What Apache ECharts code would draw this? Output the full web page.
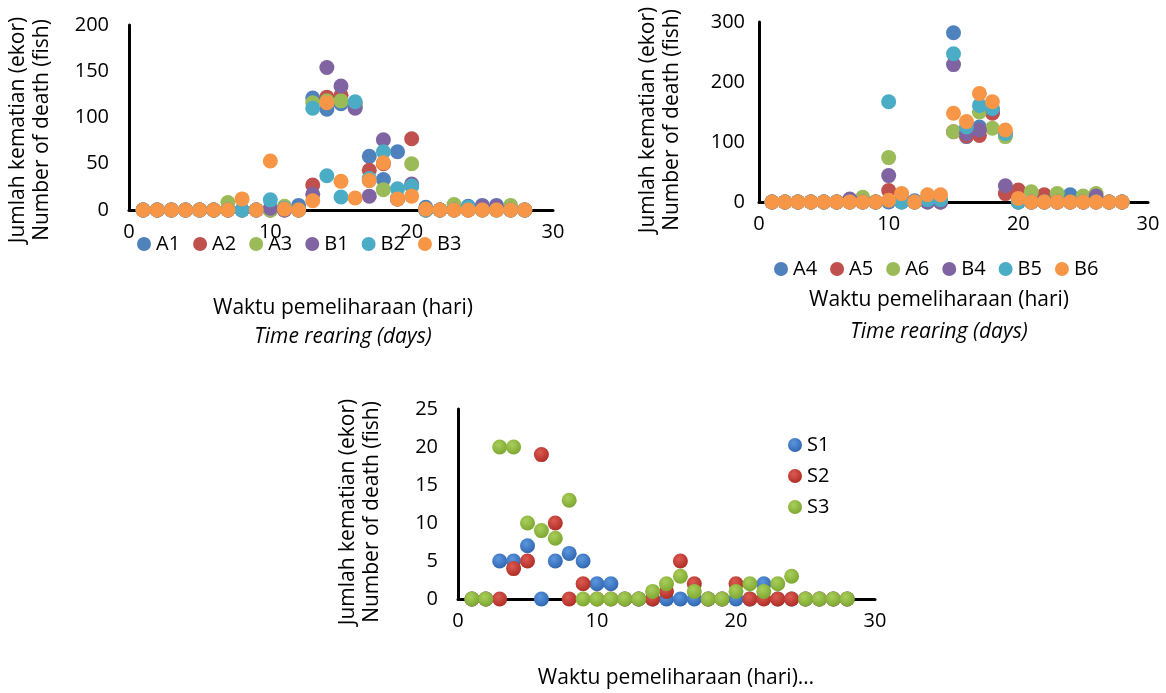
<!DOCTYPE html>
<html>
<head>
    <meta charset="utf-8">
    <title>Kematian ikan</title>
    <script src="https://cdn.jsdelivr.net/npm/echarts/dist/echarts.min.js"></script>
</head>
<body style="margin:0;background:#fff">
    <div id="main" style="width:1166px;height:693px;"></div>

    <script type="text/javascript">
        // hari pemeliharaan 1..28
        var days = [1,2,3,4,5,6,7,8,9,10,11,12,13,14,15,16,17,18,19,20,21,22,23,24,25,26,27,28];

        // grafik 1
        var A1 = [0,0,0,0,0,0,0,0,0,0,0,5,121,109,115,112,58,33,63,26,3,0,2,4,5,5,2,0];
        var A2 = [0,0,0,0,0,0,0,0,0,0,0,0,27,122,124,115,43,50,12,77,0,0,0,0,0,0,0,0];
        var A3 = [0,0,0,0,0,0,8,0,0,0,4,0,116,118,118,113,32,22,12,50,0,0,6,0,0,0,5,0];
        var B1 = [0,0,0,0,0,0,0,0,0,2,0,0,17,154,134,110,15,76,12,28,0,0,0,0,4,4,0,0];
        var B2 = [0,0,0,0,0,0,0,0,0,11,2,0,110,37,14,117,34,63,23,26,0,0,0,3,0,0,0,0];
        var B3 = [0,0,0,0,0,0,0,12,0,53,1,0,10,116,31,13,32,51,12,15,1,0,0,0,0,0,0,0];

        // grafik 2
        var A4 = [0,0,0,0,0,0,0,0,0,0,2,2,0,0,282,109,125,150,112,0,0,0,0,12,0,0,0,0];
        var A5 = [0,0,0,0,0,0,0,0,0,19,5,0,2,0,117,110,111,148,14,20,0,12,0,0,0,0,0,0];
        var A6 = [0,0,0,0,0,0,0,8,0,74,0,0,0,0,117,120,150,123,109,0,17,0,14,0,10,14,0,0];
        var B4 = [0,0,0,0,0,0,5,0,0,44,0,0,0,0,229,114,120,155,27,0,0,0,0,0,0,10,0,0];
        var B5 = [0,0,0,0,0,0,0,0,0,167,0,0,4,4,247,125,161,156,114,0,0,0,0,0,0,0,0,0];
        var B6 = [0,0,0,0,0,0,0,0,0,3,14,0,12,12,148,134,181,167,120,6,0,0,0,0,0,0,0,0];

        // grafik 3
        var S1 = [0,0,5,5,7,0,5,6,5,2,2,0,0,0,0,0,0,0,0,0,0,2,0,0,0,0,0,0];
        var S2 = [0,0,0,4,5,19,10,0,2,0,0,0,0,0,1,5,2,0,0,2,0,0,0,0,0,0,0,0];
        var S3 = [0,0,20,20,10,9,8,13,0,0,0,0,0,1,2,3,1,0,0,1,2,1,2,3,0,0,0,0];

        var xTicks = [0, 10, 20, 30];
        var yTicks1 = [0, 50, 100, 150, 200];
        var yTicks2 = [0, 100, 200, 300];
        var yTicks3 = [0, 5, 10, 15, 20, 25];

        var FONT = 'Open Sans';
        var warna = ['#4F81BD', '#C0504D', '#9BBB59', '#8064A2', '#4BACC6', '#F79646'];

        function pairs(arr) {
            return days.map(function (d, i) { return [d, arr[i]]; });
        }

        function bola(c1, c2) {
            return {
                type: 'radial', x: 0.4, y: 0.35, r: 0.75,
                colorStops: [{offset: 0, color: c1}, {offset: 1, color: c2}]
            };
        }

        function xAxisOf(gi) {
            return {
                gridIndex: gi, type: 'value', min: xTicks[0], max: xTicks[xTicks.length - 1],
                interval: xTicks[1] - xTicks[0],
                axisLine: {show: true, onZero: false, lineStyle: {color: '#000', width: 3}},
                axisTick: {show: false},
                splitLine: {show: false},
                axisLabel: {color: '#000', fontFamily: FONT, fontSize: 20, margin: 12}
            };
        }
        function yAxisOf(gi, ticks, margin) {
            return {
                gridIndex: gi, type: 'value', min: 0, max: ticks[ticks.length - 1],
                interval: ticks[1] - ticks[0],
                axisLine: {show: true, lineStyle: {color: '#000', width: 3}},
                axisTick: {show: false},
                splitLine: {show: false},
                axisLabel: {color: '#000', fontFamily: FONT, fontSize: 20, margin: margin}
            };
        }

        var series = [];
        var nama1 = ['A1','A2','A3','B1','B2','B3'];
        [A1, A2, A3, B1, B2, B3].forEach(function (arr, i) {
            series.push({
                name: nama1[i], type: 'scatter', xAxisIndex: 0, yAxisIndex: 0,
                symbolSize: 15, itemStyle: {color: warna[i], opacity: 1},
                data: pairs(arr)
            });
        });
        var nama2 = ['A4','A5','A6','B4','B5','B6'];
        [A4, A5, A6, B4, B5, B6].forEach(function (arr, i) {
            series.push({
                name: nama2[i], type: 'scatter', xAxisIndex: 1, yAxisIndex: 1,
                symbolSize: 15, itemStyle: {color: warna[i], opacity: 1},
                data: pairs(arr)
            });
        });
        var bolaWarna = [bola('#5b97df', '#2b60aa'), bola('#dc5a52', '#a8281f'), bola('#a9cf5a', '#77a22c')];
        var nama3 = ['S1','S2','S3'];
        [S1, S2, S3].forEach(function (arr, i) {
            series.push({
                name: nama3[i], type: 'scatter', xAxisIndex: 2, yAxisIndex: 2,
                symbolSize: 15, itemStyle: {color: bolaWarna[i], opacity: 1},
                data: pairs(arr)
            });
        });

        var tStyle = {fill: '#000', fontFamily: FONT, fontSize: 21};
        function teks(x, y, s, rot, italic) {
            return {
                type: 'text', x: x, y: y, rotation: rot ? Math.PI / 2 : 0,
                style: Object.assign({}, tStyle, {
                    text: s, align: 'center', verticalAlign: 'middle',
                    fontStyle: italic ? 'italic' : 'normal'
                })
            };
        }

        var legendBase = {
            icon: 'circle', itemWidth: 14, itemHeight: 14,
            textStyle: {color: '#000', fontFamily: FONT, fontSize: 20}
        };

        var myChart = echarts.init(document.getElementById('main'), null, {renderer: 'canvas'});

        var option = {
            animation: false,
            grid: [
                {left: 129, right: 613, top: 25, bottom: 483},
                {left: 759, right: 18, top: 22, bottom: 491},
                {left: 458, right: 291, top: 409, bottom: 94}
            ],
            xAxis: [xAxisOf(0), xAxisOf(1), xAxisOf(2)],
            yAxis: [yAxisOf(0, yTicks1, 20), yAxisOf(1, yTicks2, 14), yAxisOf(2, yTicks3, 20)],
            legend: [
                Object.assign({}, legendBase, {data: nama1, left: 132, top: 229, itemGap: 13}),
                Object.assign({}, legendBase, {data: nama2, left: 769, top: 254, itemGap: 13}),
                Object.assign({}, legendBase, {data: nama3, left: 783, top: 430, orient: 'vertical', itemGap: 11})
            ],
            graphic: [
                teks(18, 130, 'Jumlah kematian (ekor)', true),
                teks(42, 130, 'Number of death (fish)', true),
                teks(343, 308, 'Waktu pemeliharaan (hari)'),
                teks(343, 337, 'Time rearing (days)', false, true),
                teks(648, 120, 'Jumlah kematian (ekor)', true),
                teks(672, 120, 'Number of death (fish)', true),
                teks(939, 300, 'Waktu pemeliharaan (hari)'),
                teks(939, 332, 'Time rearing (days)', false, true),
                teks(348, 512, 'Jumlah kematian (ekor)', true),
                teks(372, 512, 'Number of death (fish)', true),
                teks(676, 678, 'Waktu pemeliharaan (hari)\u2026')
            ],
            series: series
        };

        myChart.setOption(option);
    </script>
</body>
</html>
